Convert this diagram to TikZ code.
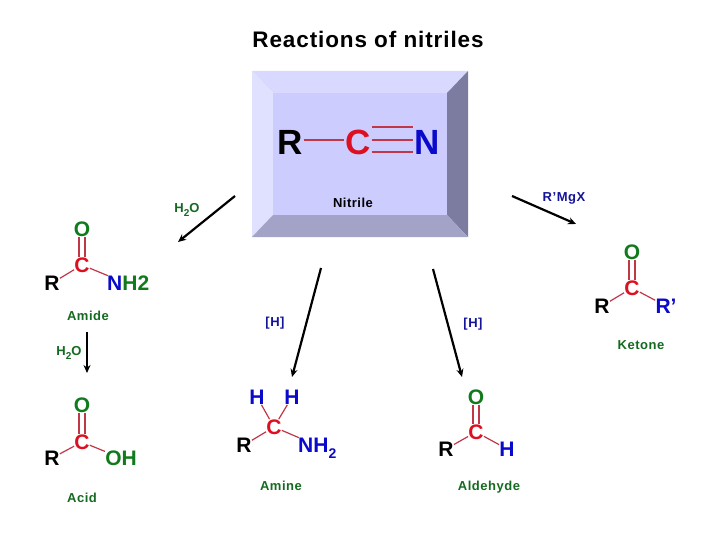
\documentclass[tikz,border=0pt]{standalone}
\usepackage{fontspec}
\setmainfont{Liberation Sans}
\usetikzlibrary{arrows.meta}
\definecolor{grn}{HTML}{107A1C}
\definecolor{lblgrn}{HTML}{146A20}
\definecolor{redc}{HTML}{DC1020}
\definecolor{blu}{HTML}{0A0ACC}
\definecolor{nblu}{HTML}{14149A}
\definecolor{bondc}{HTML}{C03848}
\definecolor{bevtop}{HTML}{D9D9FF}
\definecolor{bevleft}{HTML}{E0E0FF}
\definecolor{bevright}{HTML}{7C7CA0}
\definecolor{bevbot}{HTML}{A3A3C8}
\definecolor{bevmid}{HTML}{CCCCFF}
\newcommand{\lowsub}[1]{\raisebox{-0.3em}{\fontsize{10}{10}\selectfont #1}}
\tikzset{
  atom/.style={inner sep=1pt,font=\bfseries\fontsize{21}{21}\selectfont,text height=15pt,text depth=0pt},
  bigatom/.style={inner sep=1pt,font=\bfseries\fontsize{35}{35}\selectfont,text height=25pt,text depth=0pt},
  bond/.style={draw=bondc,line width=1.2pt,shorten >=-1pt,shorten <=-1pt},
  tbond/.style={draw=bondc,line width=1.4pt},
  react/.style={draw=black,line width=2.2pt,-{Stealth[length=8pt,width=7pt]}},
  lbl/.style={inner sep=0pt,font=\bfseries\fontsize{13}{13}\selectfont\addfontfeature{LetterSpace=4},text=lblgrn,text height=9pt,text depth=0pt},
  reagent/.style={lbl,text=nblu}
}
\begin{document}
\begin{tikzpicture}[x=1pt,y=-1pt]
\useasboundingbox (0,0) rectangle (720,540);
\fill[white] (0,0) rectangle (720,540);
\node[inner sep=0pt,font=\bfseries\fontsize{22.5}{22.5}\selectfont\addfontfeature{LetterSpace=4}] (title) at (368,39) {Reactions of nitriles};
% bevel box
\fill[bevtop] (252,71) -- (468,71) -- (447,93) -- (273,93) -- cycle;
\fill[bevleft] (252,71) -- (273,93) -- (273,215) -- (252,237) -- cycle;
\fill[bevright] (468,71) -- (468,237) -- (447,215) -- (447,93) -- cycle;
\fill[bevbot] (252,237) -- (273,215) -- (447,215) -- (468,237) -- cycle;
\fill[bevmid] (273,93) rectangle (447,215);
% nitrile
\node[bigatom,text=black] (nr) at (290,142) {R};
\node[bigatom,text=redc] (nc) at (358,142) {C};
\node[bigatom,text=blu] (nn) at (427,142) {N};
\draw[tbond] ([yshift=2pt]nr.east) -- ([yshift=2pt]nc.west);
\draw[tbond] ([yshift=15pt]nc.east) -- ([yshift=15pt]nn.west);
\draw[tbond] ([yshift=2pt]nc.east) -- ([yshift=2pt]nn.west);
\draw[tbond] ([yshift=-10pt]nc.east) -- ([yshift=-10pt]nn.west);
\node[lbl,text=black] (nitrile) at (353,203) {Nitrile};
% amide
\node[atom,text=grn] (ao) at (82,229) {O};
\node[atom,text=redc] (ac) at (82,265) {C};
\node[atom,text=black] (ar) at (52,283) {R};
\node[atom,anchor=west,inner sep=0pt] (an) at (107,283) {\textcolor{blu}{N}\textcolor{grn}{H2}};
\draw[bond] (ar) -- (ac);
\draw[bond] (ac) -- (an.north west);
\draw[bond] ([xshift=-3pt]ao.south) -- ([xshift=-3pt]ac.north);
\draw[bond] ([xshift=3pt]ao.south) -- ([xshift=3pt]ac.north);
\node[lbl] (amide) at (88,316) {Amide};
% acid
\node[atom,text=grn] (bo) at (82,405) {O};
\node[atom,text=redc] (bc) at (82,442) {C};
\node[atom,text=black] (br) at (52,458) {R};
\node[atom,text=grn] (boh) at (121,458) {OH};
\draw[bond] (br) -- (bc);
\draw[bond] (bc) -- (boh);
\draw[bond] ([xshift=-3pt]bo.south) -- ([xshift=-3pt]bc.north);
\draw[bond] ([xshift=3pt]bo.south) -- ([xshift=3pt]bc.north);
\node[lbl] (acid) at (82,498) {Acid};
% amine
\node[atom,text=blu] (h1) at (257,397) {H};
\node[atom,text=blu] (h2) at (292,397) {H};
\node[atom,text=redc] (cc) at (274,427) {C};
\node[atom,text=black] (cr) at (244,445) {R};
\node[atom,anchor=west,inner sep=0pt,text=blu] (cn) at (298,445) {NH\raisebox{-0.3em}{\fontsize{14}{14}\selectfont 2}};
\draw[bond] (h1) -- (cc);
\draw[bond] (h2) -- (cc);
\draw[bond] (cr) -- (cc);
\draw[bond] (cc) -- (cn.north west);
\node[lbl] (amine) at (281,486) {Amine};
% aldehyde
\node[atom,text=grn] (do) at (476,397) {O};
\node[atom,text=redc] (dc) at (476,432) {C};
\node[atom,text=black] (dr) at (446,449) {R};
\node[atom,text=blu] (dh) at (507,449) {H};
\draw[bond] (dr) -- (dc);
\draw[bond] (dc) -- (dh);
\draw[bond] ([xshift=-3pt]do.south) -- ([xshift=-3pt]dc.north);
\draw[bond] ([xshift=3pt]do.south) -- ([xshift=3pt]dc.north);
\node[lbl] (aldehyde) at (489,486) {Aldehyde};
% ketone
\node[atom,text=grn] (ko) at (632,252) {O};
\node[atom,text=redc] (kc) at (632,288) {C};
\node[atom,text=black] (kr) at (602,306) {R};
\node[atom,text=blu] (krp) at (666,306) {R'};
\draw[bond] (kr) -- (kc);
\draw[bond] (kc) -- (krp);
\draw[bond] ([xshift=-3pt]ko.south) -- ([xshift=-3pt]kc.north);
\draw[bond] ([xshift=3pt]ko.south) -- ([xshift=3pt]kc.north);
\node[lbl] (ketone) at (641,345) {Ketone};
% reagents
\node[lbl] (w1) at (187,208) {H\lowsub{2}O};
\node[lbl] (w2) at (69,351) {H\lowsub{2}O};
\node[reagent] (hh1) at (275,322) {[H]};
\node[reagent] (hh2) at (473,323) {[H]};
\node[reagent] (rmg) at (564,197) {R’MgX};
% arrows
\coordinate (a1s) at (235,196); \coordinate (a1e) at (178,242);
\coordinate (a2s) at (87,332);  \coordinate (a2e) at (87,373);
\coordinate (a3s) at (321,268); \coordinate (a3e) at (292,377);
\coordinate (a4s) at (433,269); \coordinate (a4e) at (462,377);
\coordinate (a5s) at (512,196); \coordinate (a5e) at (576,224);
\draw[react] (a1s) -- (a1e);
\draw[react] (a2s) -- (a2e);
\draw[react] (a3s) -- (a3e);
\draw[react] (a4s) -- (a4e);
\draw[react] (a5s) -- (a5e);
\end{tikzpicture}
\end{document}
